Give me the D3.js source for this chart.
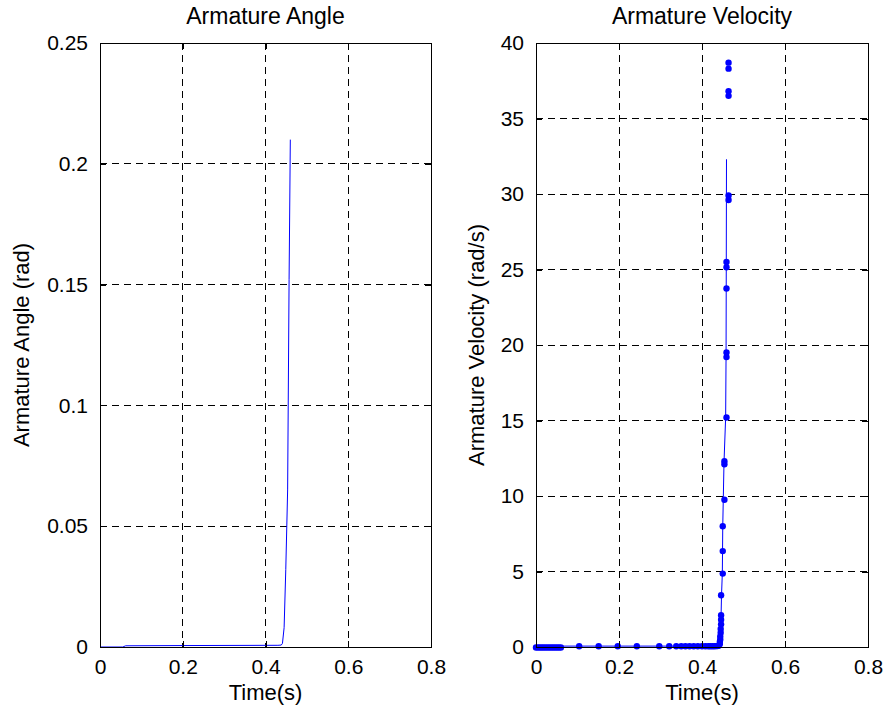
<!DOCTYPE html>
<html>
<head>
<meta charset="utf-8">
<script src="https://cdn.jsdelivr.net/npm/d3@7"></script>
<style>
  html, body { margin: 0; padding: 0; background: #fff; }
  svg { display: block; }
  text { font-family: "Liberation Sans", Arial, Helvetica, sans-serif; fill: #000; }
</style>
</head>
<body>
<script>
// ---------- DATA ----------
const xTicks = [0, 0.2, 0.4, 0.6, 0.8];
const angleTicks = [0, 0.05, 0.1, 0.15, 0.2, 0.25];
const velTicks = [0, 5, 10, 15, 20, 25, 30, 35, 40];

// Armature angle (rad) vs time (s)
const angleT = [0, 0.055, 0.062, 0.2, 0.43, 0.438, 0.441, 0.445, 0.449, 0.4535, 0.457, 0.46];
const angleV = [0, 0, 0.0005, 0.0006, 0.0007, 0.0008, 0.0015, 0.008, 0.032, 0.065, 0.152, 0.21];

// Armature velocity line (rad/s)
const velLineT = [0, 0.06, 0.062, 0.44, 0.443, 0.445, 0.446, 0.447, 0.449, 0.450, 0.453, 0.457, 0.458, 0.4585, 0.459];
const velLineV = [-0.03, 0, 0.06, 0.06, 0.3, 1.0, 2.1, 3.4, 4.9, 8.0, 12.2, 15.2, 19.4, 25.3, 32.3];

// Armature velocity sample points (rad/s)
const velDotT = [0, 0.005, 0.01, 0.015, 0.02, 0.025, 0.03, 0.035, 0.04, 0.045, 0.05, 0.055, 0.06,
  0.104, 0.151, 0.197, 0.243, 0.297, 0.321, 0.338, 0.35, 0.36, 0.37, 0.38, 0.39, 0.40, 0.408, 0.415,
  0.42, 0.425, 0.43, 0.434, 0.437, 0.44, 0.443, 0.443, 0.444, 0.444, 0.445, 0.445, 0.446, 0.446, 0.446,
  0.446, 0.450, 0.450, 0.450, 0.454, 0.454, 0.454, 0.459, 0.459, 0.459, 0.459, 0.459, 0.459, 0.464,
  0.464, 0.464, 0.464, 0.464, 0.464];
const velDotV = [-0.03, -0.03, -0.03, -0.03, -0.03, -0.03, -0.03, -0.03, -0.03, -0.03, -0.03, -0.03, -0.03,
  0.05, 0.05, 0.05, 0.05, 0.05, 0.05, 0.05, 0.05, 0.05, 0.05, 0.05, 0.05, 0.05, 0.05, 0.05,
  0.05, 0.05, 0.05, 0.06, 0.06, 0.08, 0.2, 0.35, 0.5, 0.7, 0.95, 1.2, 1.5, 1.8, 2.1,
  3.43, 4.86, 6.35, 8.0, 9.75, 12.1, 12.3, 15.2, 19.2, 19.5, 23.74, 25.15, 25.5, 29.6,
  29.9, 36.5, 36.8, 38.3, 38.7];

// ---------- DRAW ----------
const W = 886, H = 712;
const svg = d3.select("body").append("svg").attr("width", W).attr("height", H);

const blue = "#0000ff";
const plotTop = 43, plotBottom = 647;

function panel(opts) {
  const x = d3.scaleLinear().domain([0, 0.8]).range([opts.left, opts.right]);
  const y = d3.scaleLinear().domain(opts.yDomain).range([plotBottom, plotTop]);
  const g = svg.append("g");

  // grid
  g.append("g").selectAll("line").data(xTicks.filter(d => d > 0 && d < 0.8)).join("line")
    .attr("x1", d => x(d)).attr("x2", d => x(d)).attr("y1", plotTop).attr("y2", plotBottom)
    .attr("stroke", "#000").attr("stroke-width", 1).attr("stroke-dasharray", "7,5")
    .attr("shape-rendering", "crispEdges");
  g.append("g").selectAll("line").data(opts.yTicks.slice(1, -1)).join("line")
    .attr("y1", d => y(d)).attr("y2", d => y(d)).attr("x1", opts.left).attr("x2", opts.right)
    .attr("stroke", "#000").attr("stroke-width", 1).attr("stroke-dasharray", "7,5")
    .attr("shape-rendering", "crispEdges");

  // data
  const plot = g.append("g");
  opts.draw(plot, x, y);

  // axes
  const ax = (gen, tr) => {
    const a = g.append("g").attr("transform", tr).call(gen);
    a.selectAll("path").attr("stroke", "#000").attr("shape-rendering", "crispEdges");
    a.selectAll("line").attr("stroke", "#000").attr("shape-rendering", "crispEdges");
    a.selectAll("text").style("font-size", "21px")
      .style("font-family", '"Liberation Sans", Arial, Helvetica, sans-serif').attr("fill", "#000");
    return a;
  };
  const fmtX = d => String(d);
  ax(d3.axisBottom(x).tickValues(xTicks).tickFormat(fmtX).tickSizeInner(-6).tickSizeOuter(0).tickPadding(12),
     `translate(0,${plotBottom})`);
  ax(d3.axisTop(x).tickValues(xTicks).tickFormat("").tickSizeInner(-6).tickSizeOuter(0),
     `translate(0,${plotTop})`);
  ax(d3.axisLeft(y).tickValues(opts.yTicks).tickFormat(d => String(d)).tickSizeInner(-6).tickSizeOuter(0).tickPadding(12),
     `translate(${opts.left},0)`);
  ax(d3.axisRight(y).tickValues(opts.yTicks).tickFormat("").tickSizeInner(-6).tickSizeOuter(0),
     `translate(${opts.right},0)`);

  // box
  g.append("rect").attr("x", opts.left).attr("y", plotTop)
    .attr("width", opts.right - opts.left).attr("height", plotBottom - plotTop)
    .attr("fill", "none").attr("stroke", "#000").attr("shape-rendering", "crispEdges");

  // titles and labels
  const cx = (opts.left + opts.right) / 2;
  g.append("text").attr("x", cx).attr("y", 24).attr("text-anchor", "middle")
    .style("font-size", "23px").text(opts.title);
  g.append("text").attr("x", cx).attr("y", 700).attr("text-anchor", "middle")
    .style("font-size", "22px").text("Time(s)");
  g.append("text").attr("transform", `translate(${opts.ylabX},${(plotTop + plotBottom) / 2}) rotate(-90)`)
    .attr("text-anchor", "middle").style("font-size", "22px").text(opts.ylabel);
}

panel({
  left: 100, right: 431, yDomain: [0, 0.25], yTicks: angleTicks,
  title: "Armature Angle", ylabel: "Armature Angle (rad)", ylabX: 29,
  draw: (p, x, y) => {
    const pts = angleT.map((t, i) => [t, angleV[i]]);
    p.append("path").datum(pts)
      .attr("d", d3.line().x(d => x(d[0])).y(d => y(d[1])))
      .attr("fill", "none").attr("stroke", blue).attr("stroke-width", 1);
  }
});

panel({
  left: 536, right: 868, yDomain: [0, 40], yTicks: velTicks,
  title: "Armature Velocity", ylabel: "Armature Velocity (rad/s)", ylabX: 484,
  draw: (p, x, y) => {
    const pts = velLineT.map((t, i) => [t, velLineV[i]]);
    p.append("path").datum(pts)
      .attr("d", d3.line().x(d => x(d[0])).y(d => y(d[1])))
      .attr("fill", "none").attr("stroke", blue).attr("stroke-width", 1);
    const dots = velDotT.map((t, i) => [t, velDotV[i]]);
    p.append("g").selectAll("circle").data(dots).join("circle")
      .attr("cx", d => x(d[0])).attr("cy", d => y(d[1])).attr("r", 3.2)
      .attr("fill", blue);
  }
});
</script>
</body>
</html>
